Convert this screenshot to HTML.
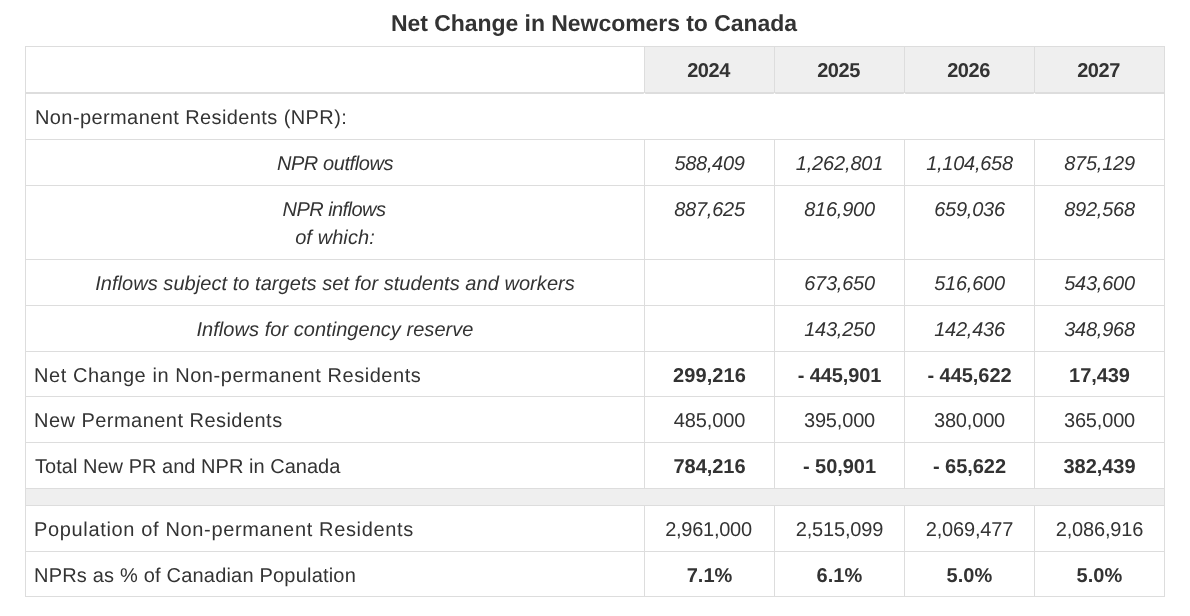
<!DOCTYPE html>
<html><head><meta charset="utf-8"><title>Net Change in Newcomers to Canada</title>
<style>
html,body{margin:0;padding:0;background:#fff;}
body{width:1190px;height:616px;position:relative;overflow:hidden;font-family:"Liberation Sans", sans-serif;color:#333333;}
body>div{position:absolute;}
.t{white-space:nowrap;will-change:transform;text-rendering:geometricPrecision;}
</style></head><body>
<div style="left:645px;top:47px;width:519px;height:45px;background:#efefef"></div>
<div style="left:26px;top:489px;width:1138px;height:16px;background:#efefef"></div>
<div style="left:25px;top:46px;width:1140px;height:1px;background:#dddddd"></div>
<div style="left:25px;top:92px;width:1140px;height:2px;background:#dddddd"></div>
<div style="left:25px;top:139px;width:1140px;height:1px;background:#dddddd"></div>
<div style="left:25px;top:185px;width:1140px;height:1px;background:#dddddd"></div>
<div style="left:25px;top:259px;width:1140px;height:1px;background:#dddddd"></div>
<div style="left:25px;top:305px;width:1140px;height:1px;background:#dddddd"></div>
<div style="left:25px;top:351px;width:1140px;height:1px;background:#dddddd"></div>
<div style="left:25px;top:396px;width:1140px;height:1px;background:#dddddd"></div>
<div style="left:25px;top:442px;width:1140px;height:1px;background:#dddddd"></div>
<div style="left:25px;top:488px;width:1140px;height:1px;background:#dddddd"></div>
<div style="left:25px;top:505px;width:1140px;height:1px;background:#dddddd"></div>
<div style="left:25px;top:551px;width:1140px;height:1px;background:#dddddd"></div>
<div style="left:25px;top:596px;width:1140px;height:1px;background:#dddddd"></div>
<div style="left:25px;top:46px;width:1px;height:551px;background:#dddddd"></div>
<div style="left:1164px;top:46px;width:1px;height:551px;background:#dddddd"></div>
<div style="left:644px;top:46px;width:1px;height:47px;background:#dddddd"></div>
<div style="left:644px;top:139px;width:1px;height:350px;background:#dddddd"></div>
<div style="left:644px;top:505px;width:1px;height:92px;background:#dddddd"></div>
<div style="left:643px;top:93px;width:3px;height:1px;background:#e2e2e2"></div>
<div style="left:644px;top:93px;width:1px;height:1px;background:#fbfbfb"></div>
<div style="left:774px;top:46px;width:1px;height:47px;background:#dddddd"></div>
<div style="left:774px;top:139px;width:1px;height:350px;background:#dddddd"></div>
<div style="left:774px;top:505px;width:1px;height:92px;background:#dddddd"></div>
<div style="left:773px;top:93px;width:3px;height:1px;background:#e2e2e2"></div>
<div style="left:774px;top:93px;width:1px;height:1px;background:#fbfbfb"></div>
<div style="left:904px;top:46px;width:1px;height:47px;background:#dddddd"></div>
<div style="left:904px;top:139px;width:1px;height:350px;background:#dddddd"></div>
<div style="left:904px;top:505px;width:1px;height:92px;background:#dddddd"></div>
<div style="left:903px;top:93px;width:3px;height:1px;background:#e2e2e2"></div>
<div style="left:904px;top:93px;width:1px;height:1px;background:#fbfbfb"></div>
<div style="left:1034px;top:46px;width:1px;height:47px;background:#dddddd"></div>
<div style="left:1034px;top:139px;width:1px;height:350px;background:#dddddd"></div>
<div style="left:1034px;top:505px;width:1px;height:92px;background:#dddddd"></div>
<div style="left:1033px;top:93px;width:3px;height:1px;background:#e2e2e2"></div>
<div style="left:1034px;top:93px;width:1px;height:1px;background:#fbfbfb"></div>
<div class="t" style="left:-0.86px;top:12.03px;width:1190px;text-align:center;font-size:23px;line-height:23px;letter-spacing:-0.054px;font-weight:bold;">Net Change in Newcomers to Canada</div>
<div class="t" style="left:644.17px;top:60.57px;width:129px;text-align:center;font-size:20px;line-height:20px;letter-spacing:-0.477px;font-weight:bold;">2024</div>
<div class="t" style="left:774.20px;top:60.57px;width:129px;text-align:center;font-size:20px;line-height:20px;letter-spacing:-0.470px;font-weight:bold;">2025</div>
<div class="t" style="left:904.20px;top:60.57px;width:129px;text-align:center;font-size:20px;line-height:20px;letter-spacing:-0.470px;font-weight:bold;">2026</div>
<div class="t" style="left:1034.20px;top:60.57px;width:129px;text-align:center;font-size:20px;line-height:20px;letter-spacing:-0.470px;font-weight:bold;">2027</div>
<div class="t" style="left:34.96px;top:107.57px;width:600px;text-align:left;font-size:20px;line-height:20px;letter-spacing:0.401px;">Non-permanent Residents (NPR):</div>
<div class="t" style="left:25.72px;top:153.57px;width:618px;text-align:center;font-size:20px;line-height:20px;letter-spacing:-0.413px;font-style:italic;">NPR outflows</div>
<div class="t" style="left:25.35px;top:199.57px;width:618px;text-align:center;font-size:20px;line-height:20px;letter-spacing:-0.548px;font-style:italic;">NPR inflows</div>
<div class="t" style="left:26.29px;top:227.57px;width:618px;text-align:center;font-size:20px;line-height:20px;letter-spacing:0.089px;font-style:italic;">of which:</div>
<div class="t" style="left:26.27px;top:273.57px;width:618px;text-align:center;font-size:20px;line-height:20px;letter-spacing:0.050px;font-style:italic;">Inflows subject to targets set for students and workers</div>
<div class="t" style="left:25.92px;top:319.57px;width:618px;text-align:center;font-size:20px;line-height:20px;letter-spacing:0.042px;font-style:italic;">Inflows for contingency reserve</div>
<div class="t" style="left:34.36px;top:365.57px;width:600px;text-align:left;font-size:20px;line-height:20px;letter-spacing:0.554px;">Net Change in Non-permanent Residents</div>
<div class="t" style="left:34.36px;top:410.57px;width:600px;text-align:left;font-size:20px;line-height:20px;letter-spacing:0.466px;">New Permanent Residents</div>
<div class="t" style="left:35.28px;top:456.57px;width:600px;text-align:left;font-size:20px;line-height:20px;letter-spacing:0.027px;">Total New PR and NPR in Canada</div>
<div class="t" style="left:34.36px;top:519.57px;width:600px;text-align:left;font-size:20px;line-height:20px;letter-spacing:0.652px;">Population of Non-permanent Residents</div>
<div class="t" style="left:34.36px;top:565.57px;width:600px;text-align:left;font-size:20px;line-height:20px;letter-spacing:0.195px;">NPRs as % of Canadian Population</div>
<div class="t" style="left:644.57px;top:153.57px;width:129px;text-align:center;font-size:20px;line-height:20px;letter-spacing:-0.331px;font-style:italic;">588,409</div>
<div class="t" style="left:775.04px;top:153.57px;width:129px;text-align:center;font-size:20px;line-height:20px;letter-spacing:-0.155px;font-style:italic;">1,262,801</div>
<div class="t" style="left:904.80px;top:153.57px;width:129px;text-align:center;font-size:20px;line-height:20px;letter-spacing:-0.250px;font-style:italic;">1,104,658</div>
<div class="t" style="left:1034.80px;top:153.57px;width:129px;text-align:center;font-size:20px;line-height:20px;letter-spacing:-0.250px;font-style:italic;">875,129</div>
<div class="t" style="left:644.80px;top:199.57px;width:129px;text-align:center;font-size:20px;line-height:20px;letter-spacing:-0.250px;font-style:italic;">887,625</div>
<div class="t" style="left:774.80px;top:199.57px;width:129px;text-align:center;font-size:20px;line-height:20px;letter-spacing:-0.250px;font-style:italic;">816,900</div>
<div class="t" style="left:904.80px;top:199.57px;width:129px;text-align:center;font-size:20px;line-height:20px;letter-spacing:-0.250px;font-style:italic;">659,036</div>
<div class="t" style="left:1034.80px;top:199.57px;width:129px;text-align:center;font-size:20px;line-height:20px;letter-spacing:-0.250px;font-style:italic;">892,568</div>
<div class="t" style="left:774.80px;top:273.57px;width:129px;text-align:center;font-size:20px;line-height:20px;letter-spacing:-0.250px;font-style:italic;">673,650</div>
<div class="t" style="left:904.80px;top:273.57px;width:129px;text-align:center;font-size:20px;line-height:20px;letter-spacing:-0.250px;font-style:italic;">516,600</div>
<div class="t" style="left:1034.80px;top:273.57px;width:129px;text-align:center;font-size:20px;line-height:20px;letter-spacing:-0.250px;font-style:italic;">543,600</div>
<div class="t" style="left:774.80px;top:319.57px;width:129px;text-align:center;font-size:20px;line-height:20px;letter-spacing:-0.250px;font-style:italic;">143,250</div>
<div class="t" style="left:904.80px;top:319.57px;width:129px;text-align:center;font-size:20px;line-height:20px;letter-spacing:-0.250px;font-style:italic;">142,436</div>
<div class="t" style="left:1034.80px;top:319.57px;width:129px;text-align:center;font-size:20px;line-height:20px;letter-spacing:-0.250px;font-style:italic;">348,968</div>
<div class="t" style="left:644.63px;top:365.57px;width:129px;text-align:center;font-size:20px;line-height:20px;letter-spacing:0.087px;font-weight:bold;">299,216</div>
<div class="t" style="left:775.31px;top:365.57px;width:129px;text-align:center;font-size:20px;line-height:20px;letter-spacing:-0.095px;font-weight:bold;">- 445,901</div>
<div class="t" style="left:905.00px;top:365.57px;width:129px;text-align:center;font-size:20px;line-height:20px;letter-spacing:-0.050px;font-weight:bold;">- 445,622</div>
<div class="t" style="left:1035.00px;top:365.57px;width:129px;text-align:center;font-size:20px;line-height:20px;letter-spacing:-0.050px;font-weight:bold;">17,439</div>
<div class="t" style="left:644.81px;top:410.57px;width:129px;text-align:center;font-size:20px;line-height:20px;letter-spacing:-0.095px;">485,000</div>
<div class="t" style="left:774.65px;top:410.57px;width:129px;text-align:center;font-size:20px;line-height:20px;letter-spacing:-0.170px;">395,000</div>
<div class="t" style="left:904.65px;top:410.57px;width:129px;text-align:center;font-size:20px;line-height:20px;letter-spacing:-0.170px;">380,000</div>
<div class="t" style="left:1034.65px;top:410.57px;width:129px;text-align:center;font-size:20px;line-height:20px;letter-spacing:-0.170px;">365,000</div>
<div class="t" style="left:645.00px;top:456.57px;width:129px;text-align:center;font-size:20px;line-height:20px;letter-spacing:-0.050px;font-weight:bold;">784,216</div>
<div class="t" style="left:775.00px;top:456.57px;width:129px;text-align:center;font-size:20px;line-height:20px;letter-spacing:-0.050px;font-weight:bold;">- 50,901</div>
<div class="t" style="left:905.00px;top:456.57px;width:129px;text-align:center;font-size:20px;line-height:20px;letter-spacing:-0.050px;font-weight:bold;">- 65,622</div>
<div class="t" style="left:1035.00px;top:456.57px;width:129px;text-align:center;font-size:20px;line-height:20px;letter-spacing:-0.050px;font-weight:bold;">382,439</div>
<div class="t" style="left:644.14px;top:519.57px;width:129px;text-align:center;font-size:20px;line-height:20px;letter-spacing:-0.258px;">2,961,000</div>
<div class="t" style="left:774.65px;top:519.57px;width:129px;text-align:center;font-size:20px;line-height:20px;letter-spacing:-0.170px;">2,515,099</div>
<div class="t" style="left:904.65px;top:519.57px;width:129px;text-align:center;font-size:20px;line-height:20px;letter-spacing:-0.170px;">2,069,477</div>
<div class="t" style="left:1034.65px;top:519.57px;width:129px;text-align:center;font-size:20px;line-height:20px;letter-spacing:-0.170px;">2,086,916</div>
<div class="t" style="left:644.67px;top:565.57px;width:129px;text-align:center;font-size:20px;line-height:20px;letter-spacing:0.020px;font-weight:bold;">7.1%</div>
<div class="t" style="left:774.63px;top:565.57px;width:129px;text-align:center;font-size:20px;line-height:20px;letter-spacing:0.050px;font-weight:bold;">6.1%</div>
<div class="t" style="left:904.63px;top:565.57px;width:129px;text-align:center;font-size:20px;line-height:20px;letter-spacing:0.050px;font-weight:bold;">5.0%</div>
<div class="t" style="left:1034.63px;top:565.57px;width:129px;text-align:center;font-size:20px;line-height:20px;letter-spacing:0.050px;font-weight:bold;">5.0%</div>
</body></html>
